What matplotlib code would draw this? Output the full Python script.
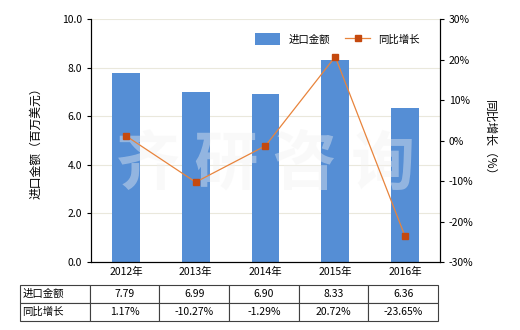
import matplotlib
matplotlib.use("Agg")
import matplotlib.pyplot as plt
import numpy as np

plt.rcParams['font.family'] = ['Noto Sans CJK SC', 'DejaVu Sans']
plt.rcParams['font.size'] = 7.5

years = ['2012年', '2013年', '2014年', '2015年', '2016年']
imports = [7.79, 6.99, 6.90, 8.33, 6.36]
growth = [1.17, -10.27, -1.29, 20.72, -23.65]
import_labels = ['7.79', '6.99', '6.90', '8.33', '6.36']
growth_labels = ['1.17%', '-10.27%', '-1.29%', '20.72%', '-23.65%']

fig = plt.figure(figsize=(5.2, 3.3), dpi=100)
ax = fig.add_axes([0.175, 0.206, 0.671, 0.736])
ax2 = ax.twinx()

x = np.arange(len(years))
bars = ax.bar(x, imports, 0.4, color='#558ED5', label='进口金额', zorder=2)
ax.set_xlim(-0.5, len(years) - 0.5)
ax.set_ylim(0, 10)
ax.set_yticks(np.arange(0, 10.1, 2))
ax.set_yticklabels(['%.1f' % v for v in np.arange(0, 10.1, 2)])
ax.set_xticks(x)
ax.set_xticklabels(years)
ax.grid(axis='y', color='#EAE8DC', linewidth=0.8, zorder=0)
ax.set_axisbelow(True)
ax.set_ylabel('进口金额（百万美元）', fontsize=8.5, labelpad=14)

# watermark over the bars
ax.text(0.5, 0.40, '齐 研 咨 询', transform=ax.transAxes, fontsize=46,
        color='#F2F2F2', alpha=0.4, ha='center', va='center',
        fontweight='bold', zorder=2.5)

line, = ax2.plot(x, growth, color='#E8843C', linewidth=0.9, marker='s',
                 markersize=4, markerfacecolor='#C5490E', markeredgecolor='#C5490E',
                 label='同比增长', zorder=3)
ax2.set_ylim(-30, 30)
ax2.set_yticks(np.arange(-30, 31, 10))
ax2.set_yticklabels(['%d%%' % v for v in np.arange(-30, 31, 10)])
ax2.set_ylabel('同比增长（%）', rotation=270, labelpad=16, fontsize=8.5)

for a in (ax, ax2):
    a.spines['top'].set_visible(False)
    a.tick_params(length=3, width=0.8)
ax.tick_params(axis='x', length=0)

ax.legend([bars, line], ['进口金额', '同比增长'], loc='upper right',
          bbox_to_anchor=(0.97, 0.98), ncol=2, frameon=False, fontsize=7.5,
          handlelength=2.4, handleheight=1.3, columnspacing=1.5)

cells = [['进口金额'] + import_labels, ['同比增长'] + growth_labels]
tbl = ax.table(cellText=cells, cellLoc='center',
               bbox=[-0.2034, -0.2428, 1.198, 0.148])
tbl.auto_set_font_size(False)
tbl.set_fontsize(7.5)
for (r, c), cell in tbl.get_celld().items():
    cell.set_edgecolor('#404040')
    cell.set_linewidth(0.8)
    if c == 0:
        cell.set_text_props(ha='left')
        cell.PAD = 0.03

fig.savefig('out.png', dpi=100)
